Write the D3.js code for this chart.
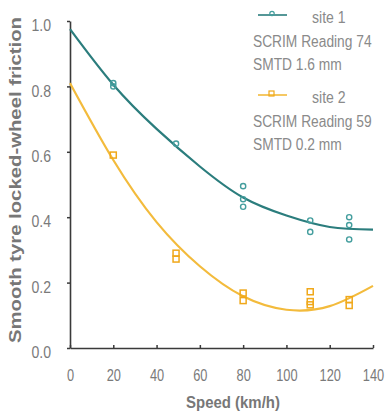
<!DOCTYPE html>
<html>
<head>
<meta charset="utf-8">
<script src="https://cdn.jsdelivr.net/npm/d3@7"></script>
<style>
  body { margin: 0; background: #fff; }
  text { font-family: Arial, "Liberation Sans", sans-serif; }
</style>
</head>
<body>
<svg id="chart" width="391" height="413"></svg>
<script>
// Speed (km/h) vs smooth tyre locked-wheel friction
const site1Speed = [20, 20, 49, 80, 80, 80, 111, 111, 129, 129, 129];
const site1Friction = [0.80, 0.81, 0.625, 0.495, 0.455, 0.432, 0.39, 0.355, 0.40, 0.376, 0.332];
const site2Speed = [20, 49, 49, 80, 80, 111, 111, 111, 129, 129];
const site2Friction = [0.59, 0.29, 0.272, 0.168, 0.145, 0.172, 0.142, 0.132, 0.148, 0.13];

// trend lines
const trendSpeed = [0, 20, 40, 60, 80, 100, 120, 140];
const trend1 = [0.975, 0.805, 0.67, 0.555, 0.46, 0.405, 0.37, 0.362];
const trend2 = [0.81, 0.575, 0.385, 0.25, 0.158, 0.117, 0.128, 0.19];

const xTicks = [0, 20, 40, 60, 80, 100, 120, 140];
const yTicks = [0, 0.2, 0.4, 0.6, 0.8, 1.0];

const legendItems = [
  { name: "site 1", lines: ["SCRIM Reading 74", "SMTD 1.6 mm"], shape: "circle" },
  { name: "site 2", lines: ["SCRIM Reading 59", "SMTD 0.2 mm"], shape: "square" }
];

const teal = "#2b7d7d", tealMark = "#449e9e";
const orange = "#f3bb3c", orangeMark = "#f0a81a";

// the source text is condensed, squeeze glyphs horizontally
function narrow(sel, k) {
  sel.each(function () {
    this.setAttribute("textLength", this.getComputedTextLength() * k);
    this.setAttribute("lengthAdjust", "spacingAndGlyphs");
  });
}

const svg = d3.select("#chart");
const x = d3.scaleLinear().domain([0, 140]).range([70, 373]);
const y = d3.scaleLinear().domain([0, 1]).range([348, 21]);

// axes
const xAxis = svg.append("g").attr("transform", `translate(0,${y(0)})`)
  .call(d3.axisBottom(x).tickValues(xTicks).tickSize(3).tickSizeOuter(0).tickPadding(19));
const yAxis = svg.append("g").attr("transform", `translate(${x(0)},0)`)
  .call(d3.axisLeft(y).tickValues(yTicks).tickSize(3).tickSizeOuter(0).tickPadding(16)
    .tickFormat(d3.format(".1f")));

[xAxis, yAxis].forEach(g => {
  g.select(".domain").attr("stroke", "#3a3a3a").attr("stroke-width", 1.6);
  g.selectAll(".tick line").attr("stroke", "#3a3a3a").attr("stroke-width", 1.5);
  g.selectAll(".tick text").attr("fill", "#7a7a7a").attr("font-size", 16)
    .attr("font-family", "Arial, 'Liberation Sans', sans-serif");
});
xAxis.selectAll(".tick line").attr("transform", "translate(0,-3)");
yAxis.selectAll(".tick text").attr("dy", "0.6em");
narrow(xAxis.selectAll(".tick text"), 0.8);
narrow(yAxis.selectAll(".tick text"), 0.88);

// axis titles
svg.append("text")
  .attr("x", 233).attr("y", 408)
  .attr("text-anchor", "middle")
  .attr("font-size", 17).attr("font-weight", "bold").attr("fill", "#777")
  .text("Speed (km/h)")
  .call(narrow, 0.88);

svg.append("text")
  .attr("transform", "translate(21,180) rotate(-90)")
  .attr("text-anchor", "middle")
  .attr("font-size", 16).attr("font-weight", "bold").attr("fill", "#777")
  .attr("textLength", 326).attr("lengthAdjust", "spacingAndGlyphs")
  .text("Smooth tyre locked-wheel friction");

// trend curves
const line = d3.line().x(d => x(d[0])).y(d => y(d[1])).curve(d3.curveNatural);
svg.append("path")
  .datum(d3.zip(trendSpeed, trend1))
  .attr("d", line).attr("fill", "none").attr("stroke", teal).attr("stroke-width", 2.2);
svg.append("path")
  .datum(d3.zip(trendSpeed, trend2))
  .attr("d", line).attr("fill", "none").attr("stroke", orange).attr("stroke-width", 2.2);

// markers
svg.append("g").selectAll("circle")
  .data(d3.zip(site1Speed, site1Friction))
  .join("circle")
  .attr("cx", d => x(d[0])).attr("cy", d => y(d[1])).attr("r", 2.6)
  .attr("fill", "none").attr("stroke", tealMark).attr("stroke-width", 1.4);

svg.append("g").selectAll("rect")
  .data(d3.zip(site2Speed, site2Friction))
  .join("rect")
  .attr("x", d => x(d[0]) - 3).attr("y", d => y(d[1]) - 3)
  .attr("width", 6).attr("height", 6)
  .attr("fill", "none").attr("stroke", orangeMark).attr("stroke-width", 1.5);

// legend
const legend = svg.append("g");
legendItems.forEach((item, i) => {
  const top = 15 + i * 80;
  const col = i === 0 ? teal : orange;
  const mk = i === 0 ? tealMark : orangeMark;
  legend.append("line")
    .attr("x1", 258).attr("x2", 287).attr("y1", top).attr("y2", top)
    .attr("stroke", col).attr("stroke-width", 1.6);
  if (item.shape === "circle") {
    legend.append("circle").attr("cx", 272).attr("cy", top - 1.5).attr("r", 2.2)
      .attr("fill", "none").attr("stroke", mk).attr("stroke-width", 1.2);
  } else {
    legend.append("rect").attr("x", 269).attr("y", top - 4).attr("width", 5).attr("height", 5)
      .attr("fill", "none").attr("stroke", mk).attr("stroke-width", 1.2);
  }
  legend.append("text")
    .attr("x", 312).attr("y", top + 8)
    .attr("font-size", 16).attr("fill", "#8a8a8a")
    .text(item.name)
    .call(narrow, 0.88);
  item.lines.forEach((t, j) => {
    legend.append("text")
      .attr("x", 253).attr("y", top + 32 + j * 23)
      .attr("font-size", 16).attr("fill", "#8a8a8a")
      .text(t)
      .call(narrow, 0.86);
  });
});
</script>
</body>
</html>
